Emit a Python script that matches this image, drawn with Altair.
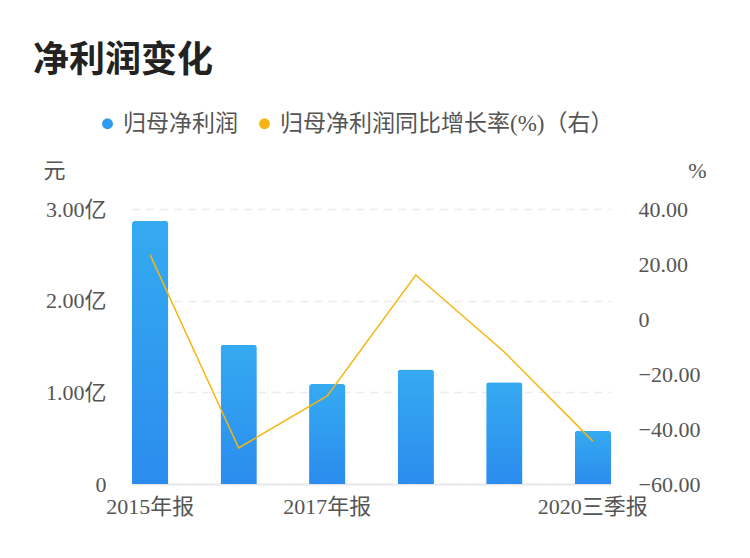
import altair as alt
import pandas as pd

periods = ["2015年报", "2016年报", "2017年报", "2018年报", "2019年报", "2020三季报"]
profit_yi = [2.87, 1.52, 1.09, 1.25, 1.11, 0.58]
growth_pct = [23.3, -46.9, -28.0, 16.0, -12.0, -44.4]
shown_labels = ["2015年报", "2017年报", "2020三季报"]
series_names = ["归母净利润", "归母净利润同比增长率(%)（右）"]
series_colors = ["#2f9bef", "#f7b512"]
left_ticks = [0, 1, 2, 3]
right_ticks = [-60, -40, -20, 0, 20, 40]

df = pd.DataFrame({
    "period": periods,
    "profit": profit_yi,
    "growth": growth_pct,
    "series": [series_names[1]] * len(periods),
})

FONT = "Liberation Serif, Noto Sans CJK SC"
LABEL_COLOR = "#555555"

x = alt.X(
    "period:N", sort=periods,
    scale=alt.Scale(paddingInner=0.59, paddingOuter=0),
    axis=alt.Axis(values=shown_labels, labelAngle=0, ticks=False,
                  domainColor="#e8e8e8", domainWidth=2, labelPadding=12,
                  labelFontSize=22, labelColor=LABEL_COLOR, labelFont=FONT,
                  title=None, grid=False),
)

bars = alt.Chart(df).mark_bar(
    cornerRadiusTopLeft=3, cornerRadiusTopRight=3,
    fill=alt.Gradient(
        gradient="linear",
        stops=[alt.GradientStop(color="#2b8cee", offset=0),
               alt.GradientStop(color="#35aaf1", offset=1)],
        x1=1, x2=1, y1=1, y2=0,
    ),
).encode(
    x=x,
    y=alt.Y("profit:Q", scale=alt.Scale(domain=[0, 3], nice=False),
            axis=alt.Axis(values=left_ticks, ticks=False, domain=False,
                          labelExpr="datum.value == 0 ? '0' : format(datum.value, '.2f') + '亿'",
                          labelFontSize=22, labelColor=LABEL_COLOR, labelFont=FONT,
                          labelPadding=26,
                          grid=True, gridColor="#ebebeb", gridDash=[8, 6], gridWidth=1.5,
                          title="元", titleAngle=0, titleX=-78, titleY=-39,
                          titleAlign="center", titleBaseline="middle",
                          titleFontSize=22, titleFontWeight="normal",
                          titleColor=LABEL_COLOR, titleFont=FONT)),
)

y_right = alt.Y("growth:Q", scale=alt.Scale(domain=[-60, 40], nice=False),
                axis=alt.Axis(orient="right", values=right_ticks, ticks=False, domain=False,
                              grid=False,
                              labelExpr="datum.value == 0 ? '0' : format(datum.value, '.2f')",
                              labelFontSize=22, labelColor=LABEL_COLOR, labelFont=FONT,
                              labelPadding=27,
                              title="%", titleAngle=0, titleX=86, titleY=-39,
                              titleAlign="center", titleBaseline="middle",
                              titleFontSize=22, titleFontWeight="normal",
                              titleColor=LABEL_COLOR, titleFont=FONT))

line = alt.Chart(df).mark_line(strokeWidth=1.5, color=series_colors[1]).encode(
    x=x, y=y_right,
)

legend_pts = alt.Chart(df).mark_point(filled=True, size=0, strokeWidth=0, shape="circle").encode(
    x=x,
    y=alt.Y("growth:Q", scale=alt.Scale(domain=[-60, 40], nice=False), axis=None),
    color=alt.Color(
        "series:N",
        scale=alt.Scale(domain=series_names, range=series_colors),
        legend=alt.Legend(
            title=None, orient="none", legendX=-36, legendY=-97,
            direction="horizontal", symbolType="circle", symbolSize=120,
            symbolStrokeWidth=0, symbolOpacity=1, labelFontSize=23, labelColor=LABEL_COLOR,
            labelFont=FONT, labelLimit=500, labelOffset=4,
        ),
    ),
)

chart = alt.layer(bars, line, legend_pts).resolve_scale(y="independent").properties(
    width=479, height=275,
    padding={"left": 124, "top": 201, "right": 131, "bottom": 66},
    autosize=alt.AutoSizeParams(type="none"),
    title=alt.TitleParams("净利润变化", anchor="start", frame="group",
                          fontSize=36, fontWeight="bold", color="#222222",
                          font="Noto Sans CJK SC", dx=-99, dy=-28),
).configure_view(stroke=None).configure_legend(columnPadding=15)

chart.save("out.html", embed_options={"renderer": "svg", "actions": False})
